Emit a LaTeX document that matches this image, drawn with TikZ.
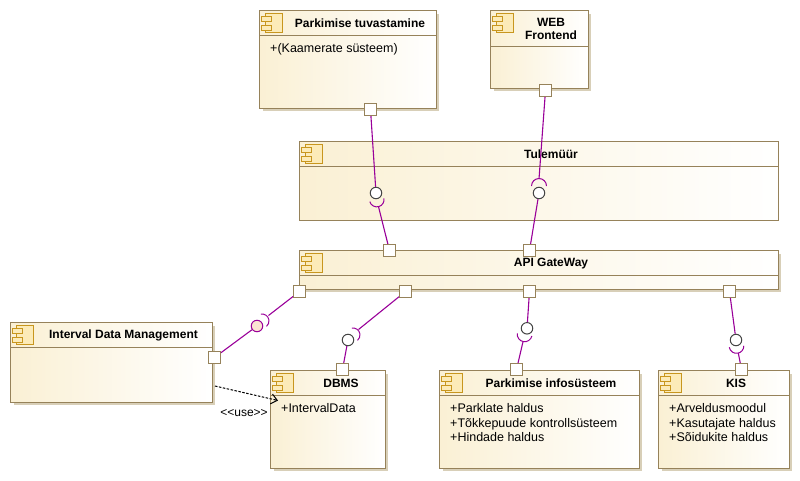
\documentclass[tikz,border=0pt]{standalone}
\usepackage{fontspec}
\setmainfont{Liberation Sans}
\usetikzlibrary{arrows.meta}
\definecolor{boxline}{HTML}{96825A}
\definecolor{boxshade}{HTML}{D8CFB8}
\definecolor{boxcream}{HTML}{FAF0D4}
\definecolor{iconline}{HTML}{C8961E}
\definecolor{iconfill}{HTML}{FCEBB8}
\definecolor{wire}{HTML}{990099}
\definecolor{ballline}{HTML}{444444}
\definecolor{ballpink}{HTML}{FBE3D2}
\tikzset{
  boxtitle/.style={font=\bfseries\fontsize{12}{13.5}\selectfont,align=center,text=black,inner sep=0pt},
  boxtext/.style={font=\fontsize{12.5}{14.6}\selectfont,align=left,anchor=north west,inner sep=0pt},
  port/.style={draw=boxline,fill=white,line width=1pt,minimum size=12pt,inner sep=0pt},
  ball/.style={draw=ballline,fill=white,circle,line width=1pt,minimum size=11.5pt,inner sep=0pt},
  wireline/.style={draw=wire,line width=1.1pt},
  socket/.style={draw=wire,line width=1pt},
}
% #1 left, #2 top, #3 right, #4 bottom
\newcommand{\boxshadow}[4]{
  \fill[boxshade] (#1+3,#2+3) rectangle (#3+2,#4+2);
}
% #1 name, #2 left, #3 top, #4 right, #5 bottom, #6 header line, #7 title x, #8 title
\newcommand{\compbox}[8]{
  \draw[boxline,line width=1pt,left color=boxcream,right color=white] (#2,#3) rectangle (#4,#5);
  \draw[boxline,line width=1pt] (#2,#6) -- (#4,#6);
  \draw[iconline,line width=1pt,fill=iconfill] (#2+6,#3+3) rectangle (#2+23,#3+22);
  \draw[iconline,line width=1pt,fill=iconfill] (#2+2,#3+6) rectangle (#2+12,#3+11);
  \draw[iconline,line width=1pt,fill=iconfill] (#2+2,#3+15) rectangle (#2+12,#3+20);
  \coordinate (#1) at (#2,#3);
  \node[boxtitle] (#1title) at (#7,{(#3+#6)/2+0.5}) {#8};
}
\begin{document}
\begin{tikzpicture}[x=1pt,y=-1pt]
    \useasboundingbox (0,0) rectangle (800,480);

    \boxshadow{259.5}{10.5}{436.5}{108.5}
    \boxshadow{490.5}{10.5}{588.5}{88.5}
    \boxshadow{299.5}{250.5}{778.5}{289.5}
    \boxshadow{10.5}{322.5}{212.5}{402.5}
    \boxshadow{270.5}{370.5}{385.5}{468.5}
    \boxshadow{439.5}{370.5}{639.5}{468.5}
    \boxshadow{658.5}{370.5}{789.5}{468.5}

    \compbox{tuvastamine}{259.5}{10.5}{436.5}{108.5}{35.5}{360}{Parkimise tuvastamine}
    \compbox{frontend}{490.5}{10.5}{588.5}{88.5}{46.5}{551}{WEB\\Frontend}
    \compbox{tulemyyr}{299.5}{141.5}{778.5}{220.5}{166.5}{551}{Tulemüür}
    \compbox{gateway}{299.5}{250.5}{778.5}{289.5}{275.5}{551}{API GateWay}
    \compbox{interval}{10.5}{322.5}{212.5}{402.5}{347.5}{123.5}{Interval Data Management}
    \compbox{dbms}{270.5}{370.5}{385.5}{468.5}{395.5}{341}{DBMS}
    \compbox{infosys}{439.5}{370.5}{639.5}{468.5}{395.5}{551}{Parkimise infosüsteem}
    \compbox{kis}{658.5}{370.5}{789.5}{468.5}{395.5}{736}{KIS}

    \node[boxtext] (tuvastaminetext) at (270,43.5) {+(Kaamerate süsteem)};
    \node[boxtext] (dbmstext) at (281,403.5) {+IntervalData};
    \node[boxtext] (infotext) at (450,403.5) {+Parklate haldus\\+Tõkkepuude kontrollsüsteem\\+Hindade haldus};
    \node[boxtext] (kistext) at (669,403.5) {+Arveldusmoodul\\+Kasutajate haldus\\+Sõidukite haldus};

    % ports on the box edges
    \node[port] (pTuv) at (370.5,109.5) {};
    \node[port] (pWeb) at (545.5,90.5) {};
    \node[port] (pGateA) at (389.5,250.5) {};
    \node[port] (pGateB) at (529.5,250.5) {};
    \node[port] (pOutA) at (299.5,291.5) {};
    \node[port] (pOutB) at (405.5,291.5) {};
    \node[port] (pOutC) at (529.5,291.5) {};
    \node[port] (pOutD) at (729.5,291.5) {};
    \node[port] (pInt) at (214.5,357.5) {};
    \node[port] (pDbms) at (342.5,369.5) {};
    \node[port] (pInfo) at (516.5,369.5) {};
    \node[port] (pKis) at (741.5,369.5) {};

    % lollipops, the free line ends stop on the socket arcs
    \node[ball] (bTuv) at (376,193) {};
    \node[ball] (bWeb) at (539,193) {};
    \node[ball,fill=ballpink,draw=wire] (bInt) at (257,326) {};
    \node[ball] (bDbms) at (348,340) {};
    \node[ball] (bInfo) at (527,328.3) {};
    \node[ball] (bKis) at (736,340) {};

    \coordinate (sTuv) at (378.5,206.6);
    \coordinate (sWeb) at (539,179);
    \coordinate (sInt) at (268.5,315.5);
    \coordinate (sDbms) at (358.5,329.5);
    \coordinate (sInfo) at (523,341.7);
    \coordinate (sKis) at (738.3,353);

    \draw[socket] (sTuv) ++(-8.7,-4.9) arc[start angle=197,end angle=370,radius=7.3pt];
    \draw[socket] (sWeb) ++(-7.5,7) arc[start angle=180,end angle=0,radius=7.5pt];
    \draw[socket] (sInt) ++(-7.7,-1.4) arc[start angle=100,end angle=-50,radius=7pt];
    \draw[socket] (sDbms) ++(-6.7,-1.4) arc[start angle=100,end angle=-50,radius=7pt];
    \draw[socket] (sInfo) ++(-5.7,-8.4) arc[start angle=172,end angle=347,radius=7.4pt];
    \draw[socket] (sKis) ++(-9,-5.7) arc[start angle=190,end angle=362,radius=7.3pt];

    \draw[wireline] (pTuv) -- (bTuv);
    \draw[wireline] (sTuv) -- (pGateA);
    \draw[wireline] (pWeb) -- (sWeb);
    \draw[wireline] (bWeb) -- (pGateB);
    \draw[wireline] (pInt) -- (bInt);
    \draw[wireline] (sInt) -- (pOutA);
    \draw[wireline] (pOutB) -- (sDbms);
    \draw[wireline] (bDbms) -- (pDbms);
    \draw[wireline] (pOutC) -- (bInfo);
    \draw[wireline] (sInfo) -- (pInfo);
    \draw[wireline] (pOutD) -- (bKis);
    \draw[wireline] (sKis) -- (pKis);

    \coordinate (useFrom) at (215,386);
    \coordinate (useTo) at (278,400.5);
    \draw[black,line width=1pt,dash pattern=on 2.5pt off 1.5pt,-{Straight Barb[length=6pt,width=10pt]}] (useFrom) -- (useTo);
    \node[inner sep=0pt,font=\fontsize{12}{12}\selectfont] (uselabel) at (244,413) {{<}{<}use{>}{>}};
\end{tikzpicture}
\end{document}
